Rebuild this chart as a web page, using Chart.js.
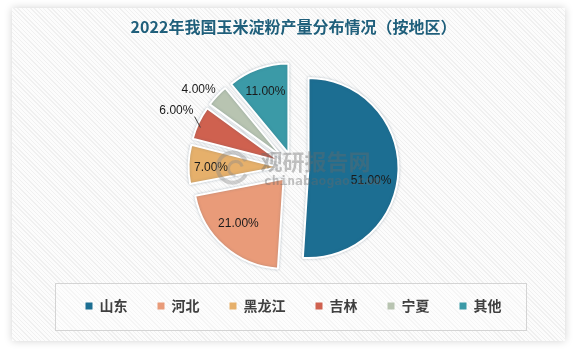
<!DOCTYPE html>
<html lang="zh-CN">
<head>
<meta charset="utf-8">
<title>2022年我国玉米淀粉产量分布情况（按地区）</title>
<script src="https://cdn.jsdelivr.net/npm/chart.js@4.4.1/dist/chart.umd.min.js"></script>
<style>
  html, body { margin: 0; padding: 0; background: #fff; }
  #wrap { position: relative; width: 577px; height: 350px; overflow: hidden; }
  #panel {
    position: absolute; left: 12px; top: 8px; width: 553px; height: 333px;
    background: repeating-linear-gradient(45deg, #fcfcfc 0 2px, #f0f0f0 2px 3px);
    box-shadow: 0 0 8px rgba(0, 0, 0, 0.18);
  }
  canvas { position: absolute; left: 0; top: 0; }
</style>
</head>
<body>
<div id="wrap">
  <div id="panel"></div>
  <canvas id="c" width="577" height="350"></canvas>
</div>
<script>
// Production share by region, percent
const regions = ['山东', '河北', '黑龙江', '吉林', '宁夏', '其他'];
const shares = [51, 21, 7, 6, 4, 11];
const sliceColors = ['#1c6e92', '#e99b79', '#e6b06b', '#cf614f', '#b8c4b1', '#3b9aa7'];

const CJK = '"Noto Sans CJK SC", "Noto Sans", sans-serif';
const LABEL_FONT = '12px "Liberation Sans", Arial, sans-serif';

// Every slice is pulled away from the centre by the same distance,
// with a soft halo round its white rim
const EXPLODE = 15;
const arcDraw = Chart.ArcElement.prototype.draw;
Chart.ArcElement.prototype.draw = function (ctx) {
  const mid = (this.startAngle + this.endAngle) / 2;
  ctx.save();
  ctx.translate(Math.cos(mid) * EXPLODE, Math.sin(mid) * EXPLODE);
  ctx.shadowColor = 'rgba(60, 90, 110, 0.28)';
  ctx.shadowBlur = 3;
  arcDraw.call(this, ctx);
  ctx.restore();
};

// Where each percentage label sits: angular turn from the slice middle (deg)
// and distance from the slice tip as a fraction of the radius
const labelLayout = [
  { turn: 9.9, dist: 0.71 },
  { turn: 3.6, dist: 0.71 },
  { turn: -2.0, dist: 0.75 },
  { turn: 0.8, dist: 1.28, leader: [[0.96, -2.2], [1.07, 2.4]] },
  { turn: -4.2, dist: 1.20 },
  { turn: -0.6, dist: 0.73 }
];

const sliceLabels = {
  id: 'sliceLabels',
  afterDatasetsDraw(chart) {
    const ctx = chart.ctx;
    const meta = chart.getDatasetMeta(0);
    ctx.save();
    ctx.font = LABEL_FONT;
    ctx.fillStyle = '#1a1a1a';
    ctx.textAlign = 'center';
    ctx.textBaseline = 'middle';
    meta.data.forEach((arc, i) => {
      const mid = (arc.startAngle + arc.endAngle) / 2;
      const tx = arc.x + Math.cos(mid) * EXPLODE;
      const ty = arc.y + Math.sin(mid) * EXPLODE;
      const R = arc.outerRadius;
      const L = labelLayout[i];
      const at = (frac, turnDeg) => {
        const a = mid + turnDeg * Math.PI / 180;
        return [tx + Math.cos(a) * R * frac, ty + Math.sin(a) * R * frac];
      };
      const [lx, ly] = at(L.dist, L.turn);
      ctx.fillText(shares[i].toFixed(2) + '%', lx, ly);
      if (L.leader) {
        const [a, b] = L.leader;
        const p1 = at(a[0], a[1]);
        const p2 = at(b[0], b[1]);
        ctx.beginPath();
        ctx.strokeStyle = '#404040';
        ctx.lineWidth = 1;
        ctx.moveTo(p1[0], p1[1]);
        ctx.lineTo(p2[0], p2[1]);
        ctx.stroke();
      }
    });
    ctx.restore();
  }
};

// Thin frame around the legend row
const legendFrame = {
  id: 'legendFrame',
  beforeDraw(chart) {
    const boxes = chart.legend && chart.legend.legendHitBoxes;
    if (!boxes || !boxes.length) return;
    const first = boxes[0], last = boxes[boxes.length - 1];
    const left = Math.round(first.left - 31) + 0.5;
    const right = Math.round(last.left + last.width + 25) + 0.5;
    const top = Math.round(first.top - 16) + 0.5;
    const bottom = Math.round(first.top + first.height + 17) + 0.5;
    const ctx = chart.ctx;
    ctx.save();
    ctx.fillStyle = 'rgba(255,255,255,0.35)';
    ctx.fillRect(left, top, right - left, bottom - top);
    ctx.strokeStyle = '#d4d4d4';
    ctx.lineWidth = 1;
    ctx.strokeRect(left, top, right - left, bottom - top);
    ctx.restore();
  }
};

// Faint site mark over the pie
const siteMark = {
  id: 'siteMark',
  afterDraw(chart) {
    const ctx = chart.ctx;
    const meta = chart.getDatasetMeta(0);
    const cx = meta.data[0].x, cy = meta.data[0].y;
    ctx.save();
    ctx.globalAlpha = 0.4;
    ctx.fillStyle = '#6a6a6a';
    ctx.strokeStyle = '#8a8a8a';
    ctx.lineWidth = 4;
    ctx.beginPath();
    ctx.arc(cx - 61, cy + 0, 15, 0.15 * Math.PI, 1.85 * Math.PI);
    ctx.stroke();
    ctx.lineWidth = 3;
    ctx.beginPath();
    ctx.arc(cx - 58, cy + 1, 7, 0.5 * Math.PI, 1.9 * Math.PI);
    ctx.stroke();
    ctx.textAlign = 'center';
    ctx.textBaseline = 'middle';
    ctx.font = 'bold 22px ' + CJK;
    ctx.fillText('观研报告网', cx + 22, cy - 6);
    ctx.font = 'bold 13px "DejaVu Sans Mono", monospace';
    ctx.fillText('chinabaogao.com', cx + 29, cy + 14);
    ctx.restore();
  }
};

const baseLabels = Chart.DoughnutController.overrides.plugins.legend.labels.generateLabels;

new Chart(document.getElementById('c'), {
  type: 'pie',
  data: {
    labels: regions,
    datasets: [{
      data: shares,
      backgroundColor: sliceColors,
      borderColor: '#ffffff',
      borderWidth: 2,
      radius: 90
    }]
  },
  options: {
    responsive: false,
    animation: false,
    events: [],
    layout: { padding: { left: 14, right: 4, top: 0, bottom: 27 } },
    plugins: {
      title: {
        display: true,
        text: '2022年我国玉米淀粉产量分布情况（按地区）',
        color: '#1f5f7b',
        font: { family: CJK, size: 16, weight: 'bold', lineHeight: 1.2 },
        padding: { top: 17, bottom: 30 }
      },
      legend: {
        position: 'bottom',
        labels: {
          boxWidth: 7,
          boxHeight: 7,
          padding: 30,
          color: '#404040',
          font: { family: CJK, size: 14, weight: 'bold' },
          generateLabels(chart) {
            return baseLabels(chart).map(item => Object.assign(item, {
              lineWidth: 0,
              strokeStyle: 'rgba(0,0,0,0)'
            }));
          }
        }
      },
      tooltip: { enabled: false }
    }
  },
  plugins: [legendFrame, sliceLabels, siteMark]
});
</script>
</body>
</html>
